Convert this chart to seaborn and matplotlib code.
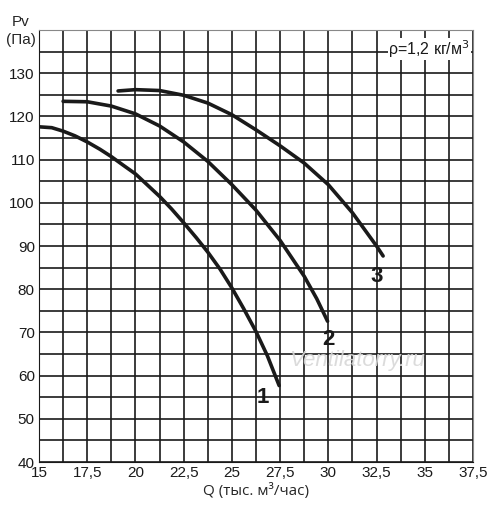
import pandas as pd
import seaborn as sns
import matplotlib.pyplot as plt
from matplotlib.ticker import MultipleLocator, FuncFormatter

# curve 1
q1 = [15, 15.66, 16.25, 16.87, 17.5, 18.16, 18.75, 19.37, 20, 20.58, 21.25, 21.87,
      22.5, 23.16, 23.75, 24.38, 25, 25.6, 26.25, 26.84, 27.45]
pv1 = [117.6, 117.4, 116.6, 115.5, 114.1, 112.4, 110.7, 108.7, 106.7, 104.3, 101.5, 98.6,
       95.4, 91.9, 88.6, 84.7, 80.3, 75.6, 70.2, 64.6, 57.7]
# curve 2
q2 = [16.25, 17.5, 18.75, 20, 21.25, 22.5, 23.75, 25, 26.25, 27.5, 28.75, 29.4, 29.96]
pv2 = [123.5, 123.4, 122.4, 120.6, 117.8, 114.1, 109.6, 104.2, 98.3, 91.3, 83.0, 77.8, 72.6]
# curve 3
q3 = [19.1, 20, 21.25, 22.5, 23.75, 25, 26.25, 27.5, 28.75, 30, 31.25, 32.5, 32.84]
pv3 = [125.9, 126.2, 126.0, 124.9, 123.1, 120.4, 116.9, 113.2, 109.2, 104.2, 97.7, 90.0, 87.7]

curve_labels = ['1', '2', '3']
label_pos = [(26.6, 55.0), (30.0, 68.4), (32.5, 83.0)]

df = pd.concat([
    pd.DataFrame({'Q': q1, 'Pv': pv1, 'curve': '1'}),
    pd.DataFrame({'Q': q2, 'Pv': pv2, 'curve': '2'}),
    pd.DataFrame({'Q': q3, 'Pv': pv3, 'curve': '3'}),
])

sns.set_style('white')
plt.rcParams['font.family'] = ['Liberation Sans', 'DejaVu Sans']

fig = plt.figure(figsize=(5, 5.18), dpi=100)
ax = fig.add_axes([0.078, 0.108, 0.868, 0.834])

sns.lineplot(data=df, x='Q', y='Pv', hue='curve', units='curve', estimator=None, sort=False,
             palette=['#1a1a1a'] * 3, linewidth=2.6, legend=False, ax=ax, zorder=3)
for line in ax.lines:
    line.set_solid_joinstyle('round')

ax.set_xlim(15, 37.5)
ax.set_ylim(40, 140)
ax.xaxis.set_major_locator(MultipleLocator(2.5))
ax.xaxis.set_minor_locator(MultipleLocator(1.25))
ax.yaxis.set_major_locator(MultipleLocator(10))
ax.yaxis.set_minor_locator(MultipleLocator(5))
ax.xaxis.set_major_formatter(FuncFormatter(lambda v, p: ('%g' % v).replace('.', ',')))
ax.yaxis.set_major_formatter(FuncFormatter(lambda v, p: '' if v >= 140 else '%d' % v))
ax.grid(which='both', color='#1a1a1a', linewidth=1.2)
ax.set_axisbelow(True)
ax.tick_params(which='both', length=0, labelsize=11, colors='#1a1a1a', pad=3)

for sp in ['left', 'bottom']:
    ax.spines[sp].set_color('#1a1a1a')
for sp in ['top', 'right']:
    ax.spines[sp].set_color('#888888')

ax.set_xlabel('Q (тыс. м³/час)', fontsize=11, family=['Open Sans', 'DejaVu Sans'], labelpad=2)
ax.set_ylabel('')
fig.text(0.042, 0.958, 'Pv', fontsize=11, ha='center', va='center')
fig.text(0.042, 0.922, '(Па)', fontsize=11, ha='center', va='center')

for lab, (x, y) in zip(curve_labels, label_pos):
    ax.text(x, y, lab, fontsize=16, fontweight='bold', ha='center', va='center', color='#1a1a1a',
            family=['Liberation Sans Narrow', 'Liberation Sans'], zorder=4)

ax.text(37.35, 135.6, 'ρ=1,2 кг/м$^3$', fontsize=11.5, ha='right', va='center', color='#1a1a1a',
        bbox=dict(facecolor='white', edgecolor='none', pad=0.3), zorder=4)

ax.text(31.5, 63.4, 'Ventilatorry.ru', fontsize=16, style='italic', ha='center', va='center',
        color='#d8d8d8', alpha=0.9, zorder=2)

fig.savefig('out.png', dpi=100)
